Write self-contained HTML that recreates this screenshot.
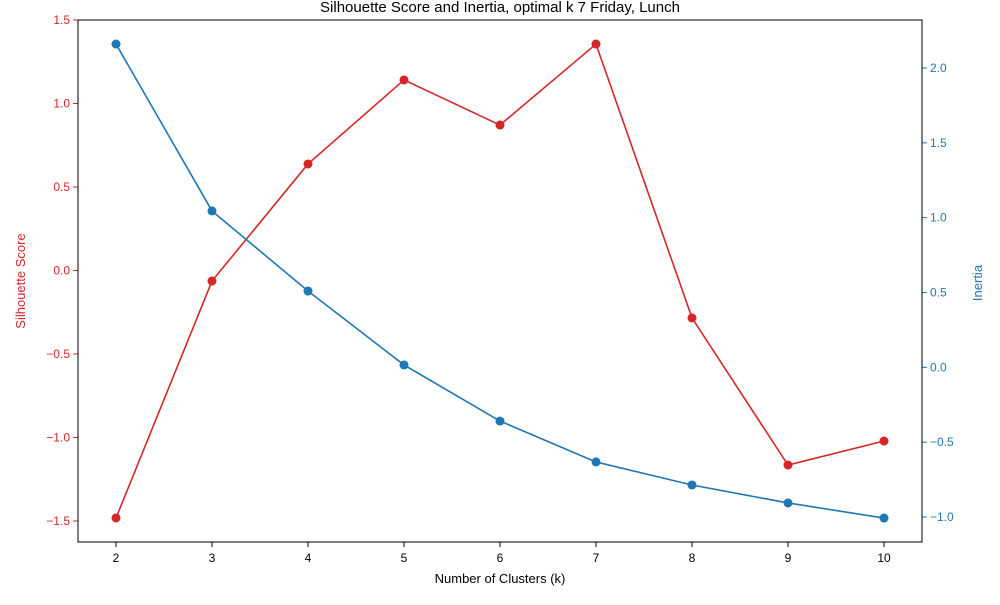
<!DOCTYPE html>
<html><head><meta charset="utf-8"><style>
body{margin:0;background:#fff;}
svg text{font-family:"Liberation Sans","DejaVu Sans",sans-serif;}
</style></head><body>
<svg id="chart" width="1000" height="600" xmlns="http://www.w3.org/2000/svg"></svg>
<script>
const ks=[2,3,4,5,6,7,8,9,10];
const silhouette=[-1.482,-0.063,0.638,1.141,0.871,1.356,-0.284,-1.165,-1.021];
const inertia=[2.160,1.045,0.510,0.016,-0.359,-0.632,-0.786,-0.906,-1.007];
const leftTicks=[-1.5,-1.0,-0.5,0.0,0.5,1.0,1.5];
const rightTicks=[-1.0,-0.5,0.0,0.5,1.0,1.5,2.0];
const L=78,R=922,T=20,B=542;
const RED='#d62728',BLUE='#1f77b4';
const sx=k=>116+(k-2)*96;
const syL=v=>20+(1.5-v)*167;
const syR=v=>68+(2.0-v)*149.67;
const svg=document.getElementById('chart');
const NS='http://www.w3.org/2000/svg';
function mk(tag,attrs,txt){const e=document.createElementNS(NS,tag);for(const k in attrs)e.setAttribute(k,attrs[k]);if(txt!==undefined)e.textContent=txt;svg.appendChild(e);return e;}
const fmt=v=>(v<0?'\u2212':'')+Math.abs(v).toFixed(1);
// title
let t=mk('text',{x:500,y:12,'text-anchor':'middle','font-size':15},'Silhouette Score and Inertia, optimal k 7 Friday, Lunch');


// x ticks
ks.forEach(k=>{
 const l=mk('line',{x1:sx(k),x2:sx(k),y1:B,y2:B+5,stroke:'#000'});
 
 
 const tx=mk('text',{x:sx(k),y:B+20,'text-anchor':'middle','font-size':12},String(k));
 
 
});
leftTicks.forEach(v=>{
 const l=mk('line',{x1:L-5,x2:L,y1:syL(v),y2:syL(v),stroke:RED});
 
 
 const tx=mk('text',{x:L-8,y:syL(v)+4,'text-anchor':'end','font-size':12,fill:RED},fmt(v));
 
 
});
rightTicks.forEach(v=>{
 const l=mk('line',{x1:R,x2:R+5,y1:syR(v),y2:syR(v),stroke:BLUE});
 
 
 const tx=mk('text',{x:R+8,y:syR(v)+4,'text-anchor':'start','font-size':12,fill:BLUE},fmt(v));
 
 
});
// axis titles
t=mk('text',{x:500,y:583,'text-anchor':'middle','font-size':13},'Number of Clusters (k)');


t=mk('text',{x:25,y:281,'text-anchor':'middle','font-size':13,fill:RED,transform:'rotate(-90 25 281)'},'Silhouette Score');


t=mk('text',{x:982,y:283,'text-anchor':'middle','font-size':13,fill:BLUE,transform:'rotate(-90 982 283)'},'Inertia');


// series
function series(vals,sy,color,name){
 const p=mk('polyline',{points:vals.map((v,i)=>sx(ks[i])+','+sy(v)).join(' '),fill:'none',stroke:color,'stroke-width':1.6});
 
 
 vals.forEach((v,i)=>{
  const c=mk('circle',{cx:sx(ks[i]),cy:sy(v),r:4.5,fill:color});
  
  
 });
}
series(silhouette,syL,RED,'silhouette');
series(inertia,syR,BLUE,'inertia');
const f=mk('rect',{x:L,y:T,width:R-L,height:B-T,fill:'none',stroke:'#000','stroke-width':1});


</script>
</body></html>
